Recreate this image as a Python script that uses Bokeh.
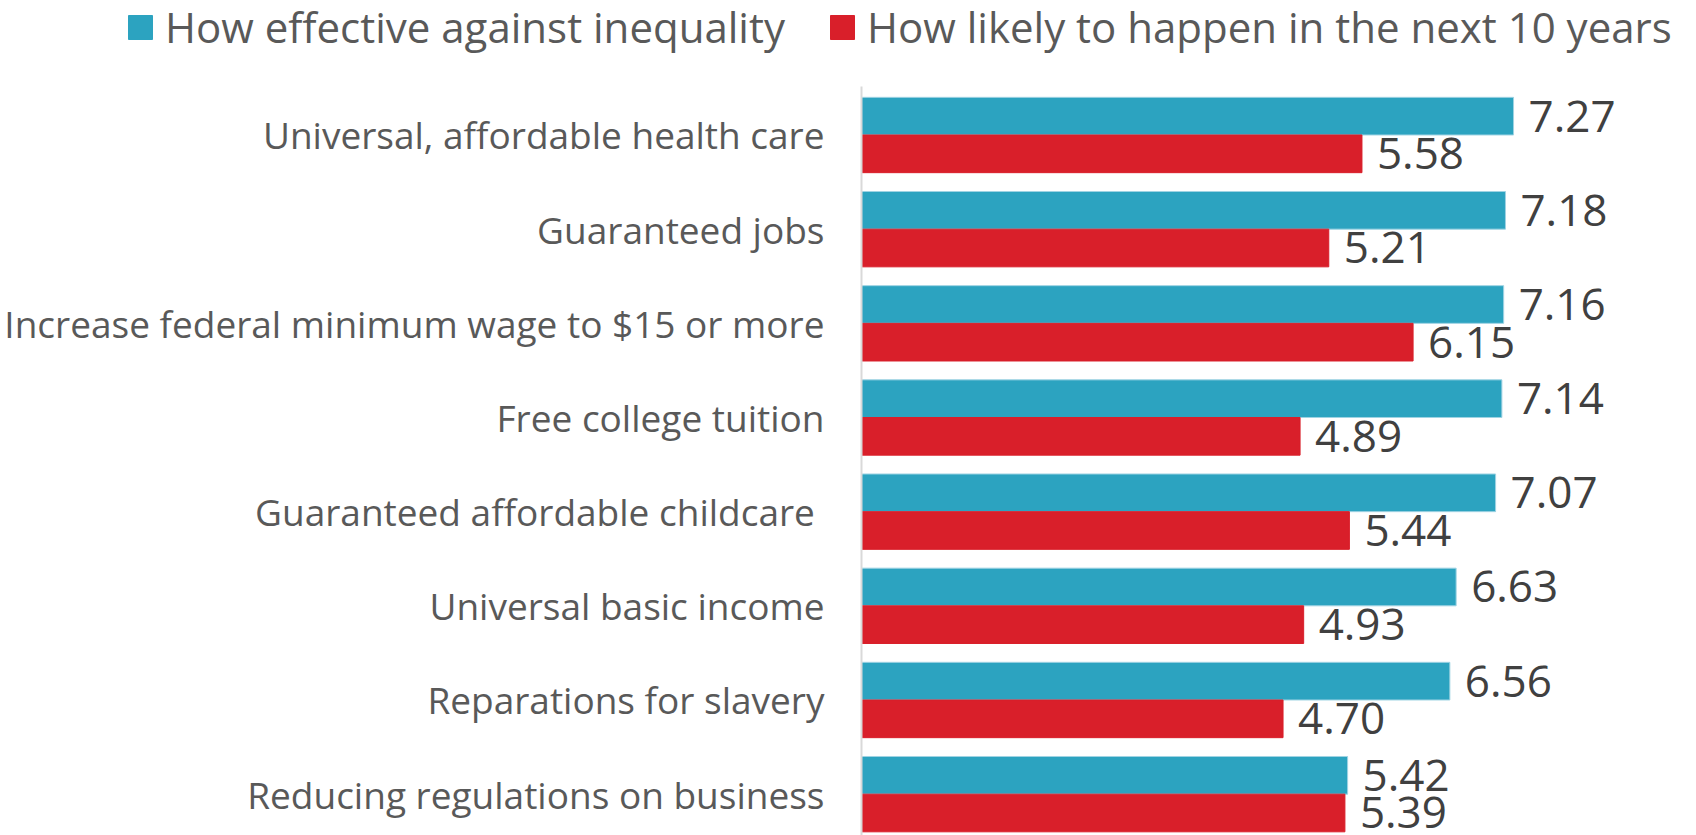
from bokeh.plotting import figure
from bokeh.layouts import column
from bokeh.models import ColumnDataSource, Range1d, Legend, LegendItem, LabelSet, FixedTicker
from bokeh.core.properties import value
from bokeh.transform import dodge
from bokeh.embed import file_html
from bokeh.resources import INLINE

categories = [
    "Universal, affordable health care",
    "Guaranteed jobs",
    "Increase federal minimum wage to $15 or more",
    "Free college tuition",
    "Guaranteed affordable childcare ",
    "Universal basic income",
    "Reparations for slavery",
    "Reducing regulations on business",
]
effective = [7.27, 7.18, 7.16, 7.14, 7.07, 6.63, 6.56, 5.42]
likely = [5.58, 5.21, 6.15, 4.89, 5.44, 4.93, 4.70, 5.39]
series_names = ["How effective against inequality", "How likely to happen in the next 10 years"]
colors = ["#2CA3C0", "#D91F2A"]

FONT = "Open Sans"
idx = list(range(len(categories)))
src = ColumnDataSource(dict(
    y=idx, eff=effective, lik=likely,
    eff_t=[f"{v:.2f}" for v in effective],
    lik_t=[f"{v:.2f}" for v in likely],
))

W = 1696
TOP = 86

# ---- legend strip ----
lf = figure(width=W, height=TOP, output_backend="svg", toolbar_location=None,
            x_range=Range1d(0, 1), y_range=Range1d(0, 1),
            min_border_left=0, min_border_right=0, min_border_top=0, min_border_bottom=0)
lf.frame_align = False
lf.xaxis.visible = False
lf.yaxis.visible = False
lf.xgrid.visible = False
lf.ygrid.visible = False
lf.outline_line_color = None
# legend-only renderers (their single quad lies outside the visible range)
d1 = lf.quad(left=[5], right=[6], top=[6], bottom=[5], fill_color=colors[0], line_color=colors[0])
d2 = lf.quad(left=[5], right=[6], top=[6], bottom=[5], fill_color=colors[1], line_color=colors[1])
legend = Legend(items=[LegendItem(label=series_names[0], renderers=[d1]),
                       LegendItem(label=series_names[1], renderers=[d2])],
                orientation="horizontal", location=(125, 31),
                label_text_font=FONT, label_text_font_size="42px", label_text_color="#595959",
                glyph_width=30, glyph_height=30, label_standoff=10, spacing=42,
                padding=0, margin=0, border_line_color=None, background_fill_alpha=0)
lf.add_layout(legend)

# ---- main chart ----
p = figure(width=W, height=835 - TOP, output_backend="svg", toolbar_location=None,
           x_range=Range1d(0, 9.31), y_range=Range1d(7.439, -0.515),
           min_border_left=861, min_border_right=0, min_border_bottom=0, min_border_top=0)
p.frame_align = False

r1 = p.hbar(y=dodge("y", -0.2, range=p.y_range), right="eff", left=0, height=0.4,
            source=src, fill_color=colors[0], line_color="#9fd3e3", line_width=1)
r2 = p.hbar(y=dodge("y", 0.2, range=p.y_range), right="lik", left=0, height=0.4,
            source=src, fill_color=colors[1], line_color=colors[1], line_width=1)

for col, txt, off in (("eff", "eff_t", -0.2), ("lik", "lik_t", 0.2)):
    lab = LabelSet(x=col, y=dodge("y", off, range=p.y_range), text=txt, source=src,
                   x_offset=15, text_baseline="middle", text_align="left",
                   text_font=value(FONT), text_font_size=value("44px"), text_color="#404040")
    p.add_layout(lab)

p.xaxis.visible = False
p.xgrid.visible = False
p.ygrid.visible = False
p.outline_line_color = None

yax = p.yaxis[0]
yax.ticker = FixedTicker(ticks=idx)
yax.major_label_overrides = {i: c for i, c in zip(idx, categories)}
yax.major_tick_in = 0
yax.major_tick_out = 0
yax.minor_tick_in = 0
yax.minor_tick_out = 0
yax.major_label_standoff = 37
yax.major_label_text_font = FONT
yax.major_label_text_font_size = "37px"
yax.major_label_text_color = "#595959"
yax.axis_line_color = "#d9d9d9"
yax.axis_line_width = 2

layout = column(lf, p, spacing=0)
open("out.html", "w").write(file_html(layout, INLINE))
